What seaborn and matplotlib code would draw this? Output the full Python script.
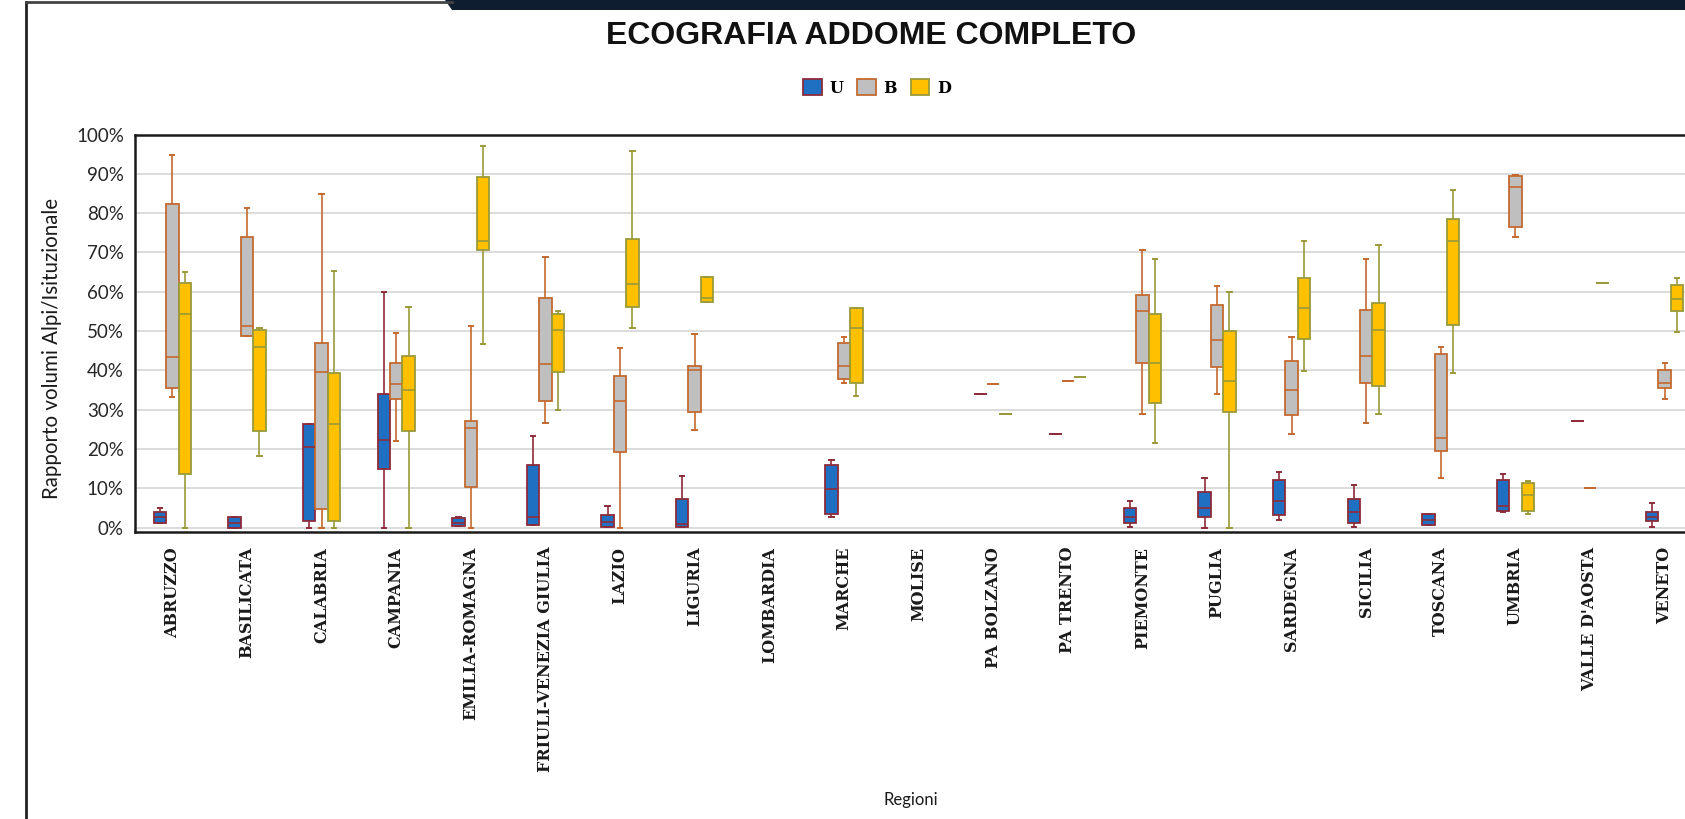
import numpy as np
import pandas as pd
import seaborn as sns
import matplotlib
matplotlib.use("Agg")
import matplotlib.pyplot as plt
from matplotlib.ticker import PercentFormatter, MultipleLocator
from matplotlib.lines import Line2D
from matplotlib.patches import Polygon

# ---------------- data (five-number summaries, % : min, q1, median, q3, max) ----
regions = ["ABRUZZO", "BASILICATA", "CALABRIA", "CAMPANIA", "EMILIA-ROMAGNA",
           "FRIULI-VENEZIA GIULIA", "LAZIO", "LIGURIA", "LOMBARDIA", "MARCHE",
           "MOLISE", "PA BOLZANO", "PA TRENTO", "PIEMONTE", "PUGLIA", "SARDEGNA",
           "SICILIA", "TOSCANA", "UMBRIA", "VALLE D'AOSTA", "VENETO"]
series = ["U", "B", "D"]

U_vals = [[1.1, 1.1, 2.8, 3.9, 5.0],
          [0.0, 0.0, 1.1, 2.7, 2.7],
          [0.0, 1.6, 20.6, 26.3, 26.3],
          [0.0, 15.0, 22.2, 34.1, 59.9],
          [0.3, 0.3, 1.1, 2.4, 2.7],
          [0.7, 0.7, 2.7, 16.0, 23.4],
          [0.1, 0.1, 1.3, 3.1, 5.4],
          [0.1, 0.1, 0.9, 7.3, 13.2],
          None,
          [2.6, 3.5, 9.7, 16.0, 17.3],
          None,
          [34.1],
          [23.9],
          [0.1, 1.1, 2.8, 5.0, 6.8],
          [0.0, 2.6, 5.0, 9.1, 12.6],
          [2.0, 3.3, 6.7, 12.0, 14.2],
          [0.1, 1.1, 3.9, 7.3, 10.9],
          [0.7, 0.7, 2.0, 3.5, 3.5],
          [3.9, 4.3, 5.4, 12.0, 13.7],
          [27.1],
          [0.1, 1.6, 2.8, 3.9, 6.2]]

B_vals = [[33.1, 35.4, 43.3, 82.3, 94.7],
          [48.8, 48.8, 51.2, 74.0, 81.4],
          [0.0, 4.6, 39.5, 47.0, 84.9],
          [22.0, 32.7, 36.4, 41.9, 49.4],
          [0.0, 10.3, 25.4, 27.1, 51.2],
          [26.7, 32.1, 41.5, 58.5, 68.9],
          [0.0, 19.3, 32.2, 38.6, 45.6],
          [24.8, 29.3, 40.2, 41.0, 49.3],
          None,
          [36.7, 37.8, 41.0, 46.9, 48.4],
          None,
          [36.4],
          [37.2],
          [28.8, 41.8, 55.0, 59.1, 70.6],
          [34.0, 40.9, 47.6, 56.7, 61.4],
          [23.9, 28.6, 35.0, 42.3, 48.4],
          [26.7, 36.9, 43.7, 55.4, 68.3],
          [12.6, 19.6, 22.9, 44.2, 46.0],
          [73.8, 76.5, 86.7, 89.5, 89.8],
          [10.0],
          [32.7, 35.4, 36.9, 40.1, 41.8]]

D_vals = [[0.0, 13.7, 54.4, 62.3, 65.0],
          [18.2, 24.6, 46.0, 50.3, 50.7],
          [0.0, 1.6, 26.3, 39.2, 65.4],
          [0.0, 24.6, 35.1, 43.7, 56.2],
          [46.6, 70.6, 73.0, 89.2, 97.0],
          [29.8, 39.5, 50.3, 54.4, 55.2],
          [50.7, 56.2, 61.9, 73.3, 95.9],
          [57.5, 57.5, 58.5, 63.7, 63.7],
          None,
          [33.5, 36.7, 50.7, 55.8, 55.8],
          None,
          [29.0],
          [38.2],
          [21.6, 31.7, 41.9, 54.4, 68.3],
          [0.0, 29.3, 37.2, 50.1, 59.9],
          [39.9, 48.0, 55.8, 63.6, 72.8],
          [29.0, 35.9, 50.3, 57.2, 72.0],
          [39.2, 51.5, 73.0, 78.5, 85.9],
          [3.5, 4.3, 8.2, 11.4, 11.8],
          [62.2],
          [49.8, 55.2, 58.2, 61.8, 63.6]]

# ---------------- style ----------------
fills = {"U": "#1F6FC2", "B": "#BFBFBF", "D": "#FFC000"}
edges = {"U": "#8E2B3A", "B": "#C4692F", "D": "#9A9A3A"}

rows = []
for s, vals in zip(series, [U_vals, B_vals, D_vals]):
    for reg, v in zip(regions, vals):
        if v is None:
            continue
        for x in v:
            rows.append({"Regioni": reg, "Serie": s, "valore": x / 100.0})
df = pd.DataFrame(rows)

W, H = 1685, 819
fig = plt.figure(figsize=(W / 100, H / 100), dpi=100)
fig.patch.set_facecolor("white")

ax_l, ax_r, ax_t, ax_b = 135, 1702, 134.5, 531.5
ax = fig.add_axes([ax_l / W, 1 - ax_b / H, (ax_r - ax_l) / W, (ax_b - ax_t) / H])

sns.boxplot(data=df, x="Regioni", y="valore", hue="Serie", order=regions,
            hue_order=series, palette=fills, width=0.5, gap=0, whis=(0, 100),
            linewidth=1.2, fliersize=0, saturation=1, legend=False, ax=ax)

for cont, s in zip(ax.containers, series):
    for b in cont.boxes:
        b.set_edgecolor(edges[s])
        b.set_linewidth(1.3)
    for ln in list(cont.medians) + list(cont.whiskers):
        ln.set_color(edges[s])
        ln.set_linewidth(1.2)
    for ln in cont.caps:
        ln.set_color(edges[s])
        ln.set_linewidth(1.4)
        xd = np.asarray(ln.get_xdata(), dtype=float)
        c = xd.mean()
        ln.set_xdata(c + (xd - c) * 0.7)

ax.set_xlim(-0.5, len(regions) - 0.5)
ax.set_ylim(-0.01, 1.0)
ax.yaxis.set_major_locator(MultipleLocator(0.1))
ax.yaxis.set_major_formatter(PercentFormatter(1.0, decimals=0))
ax.yaxis.grid(True, color="#D9D9D9", linewidth=1.3)
ax.set_axisbelow(True)

for side in ["top", "left", "bottom"]:
    ax.spines[side].set_color("#1a1a1a")
    ax.spines[side].set_linewidth(1.8)
ax.spines["right"].set_visible(False)

ax.tick_params(axis="y", length=0, pad=8, labelsize=13.5, labelcolor="#262626")
for t in ax.get_yticklabels():
    t.set_fontfamily("Lato")
ax.tick_params(axis="x", length=0, pad=11)
ax.set_xticks(range(len(regions)))
ax.set_xticklabels(regions, rotation=90, fontfamily="DejaVu Serif",
                   fontweight="bold", fontsize=11.5, color="#1a1a1a")

ax.set_ylabel("Rapporto volumi Alpi/Isituzionale", fontfamily="Lato",
              fontsize=14.8, color="#1a1a1a")
ax.yaxis.set_label_coords((62 - ax_l) / (ax_r - ax_l), (ax_b - 348) / (ax_b - ax_t))
ax.set_xlabel("Regioni", fontfamily="Lato", fontsize=12, color="#1a1a1a")
ax.xaxis.set_label_coords((911 - ax_l) / (ax_r - ax_l), (ax_b - 792) / (ax_b - ax_t))

fig.text(871 / W, 1 - 36 / H, "ECOGRAFIA ADDOME COMPLETO", ha="center",
         va="center", fontsize=23, fontweight="bold", fontfamily="Liberation Sans",
         color="#111111")

handles = [cont.boxes[0] for cont in ax.containers]
fig.legend(handles, series, loc="center", bbox_to_anchor=(877 / W, 1 - 88 / H),
           ncol=3, frameon=False, handlelength=1.15, handleheight=1.15,
           handletextpad=0.5, columnspacing=0.85,
           prop={"family": "DejaVu Serif", "weight": "bold", "size": 11.5})

# outer frame decoration
fig.add_artist(Line2D([26 / W, 26 / W], [0, 1 - 2 / H], transform=fig.transFigure,
                      color="#222222", linewidth=2))
fig.add_artist(Line2D([26 / W, 452 / W], [1 - 2 / H, 1 - 2 / H],
                      transform=fig.transFigure, color="#444444", linewidth=2))
fig.add_artist(Polygon([[445 / W, 1], [W / W, 1], [W / W, 1 - 10 / H],
                        [452 / W, 1 - 10 / H]], closed=True,
                       transform=fig.transFigure, facecolor="#0E1E30",
                       edgecolor="none"))

fig.savefig("out.png", dpi=100)
